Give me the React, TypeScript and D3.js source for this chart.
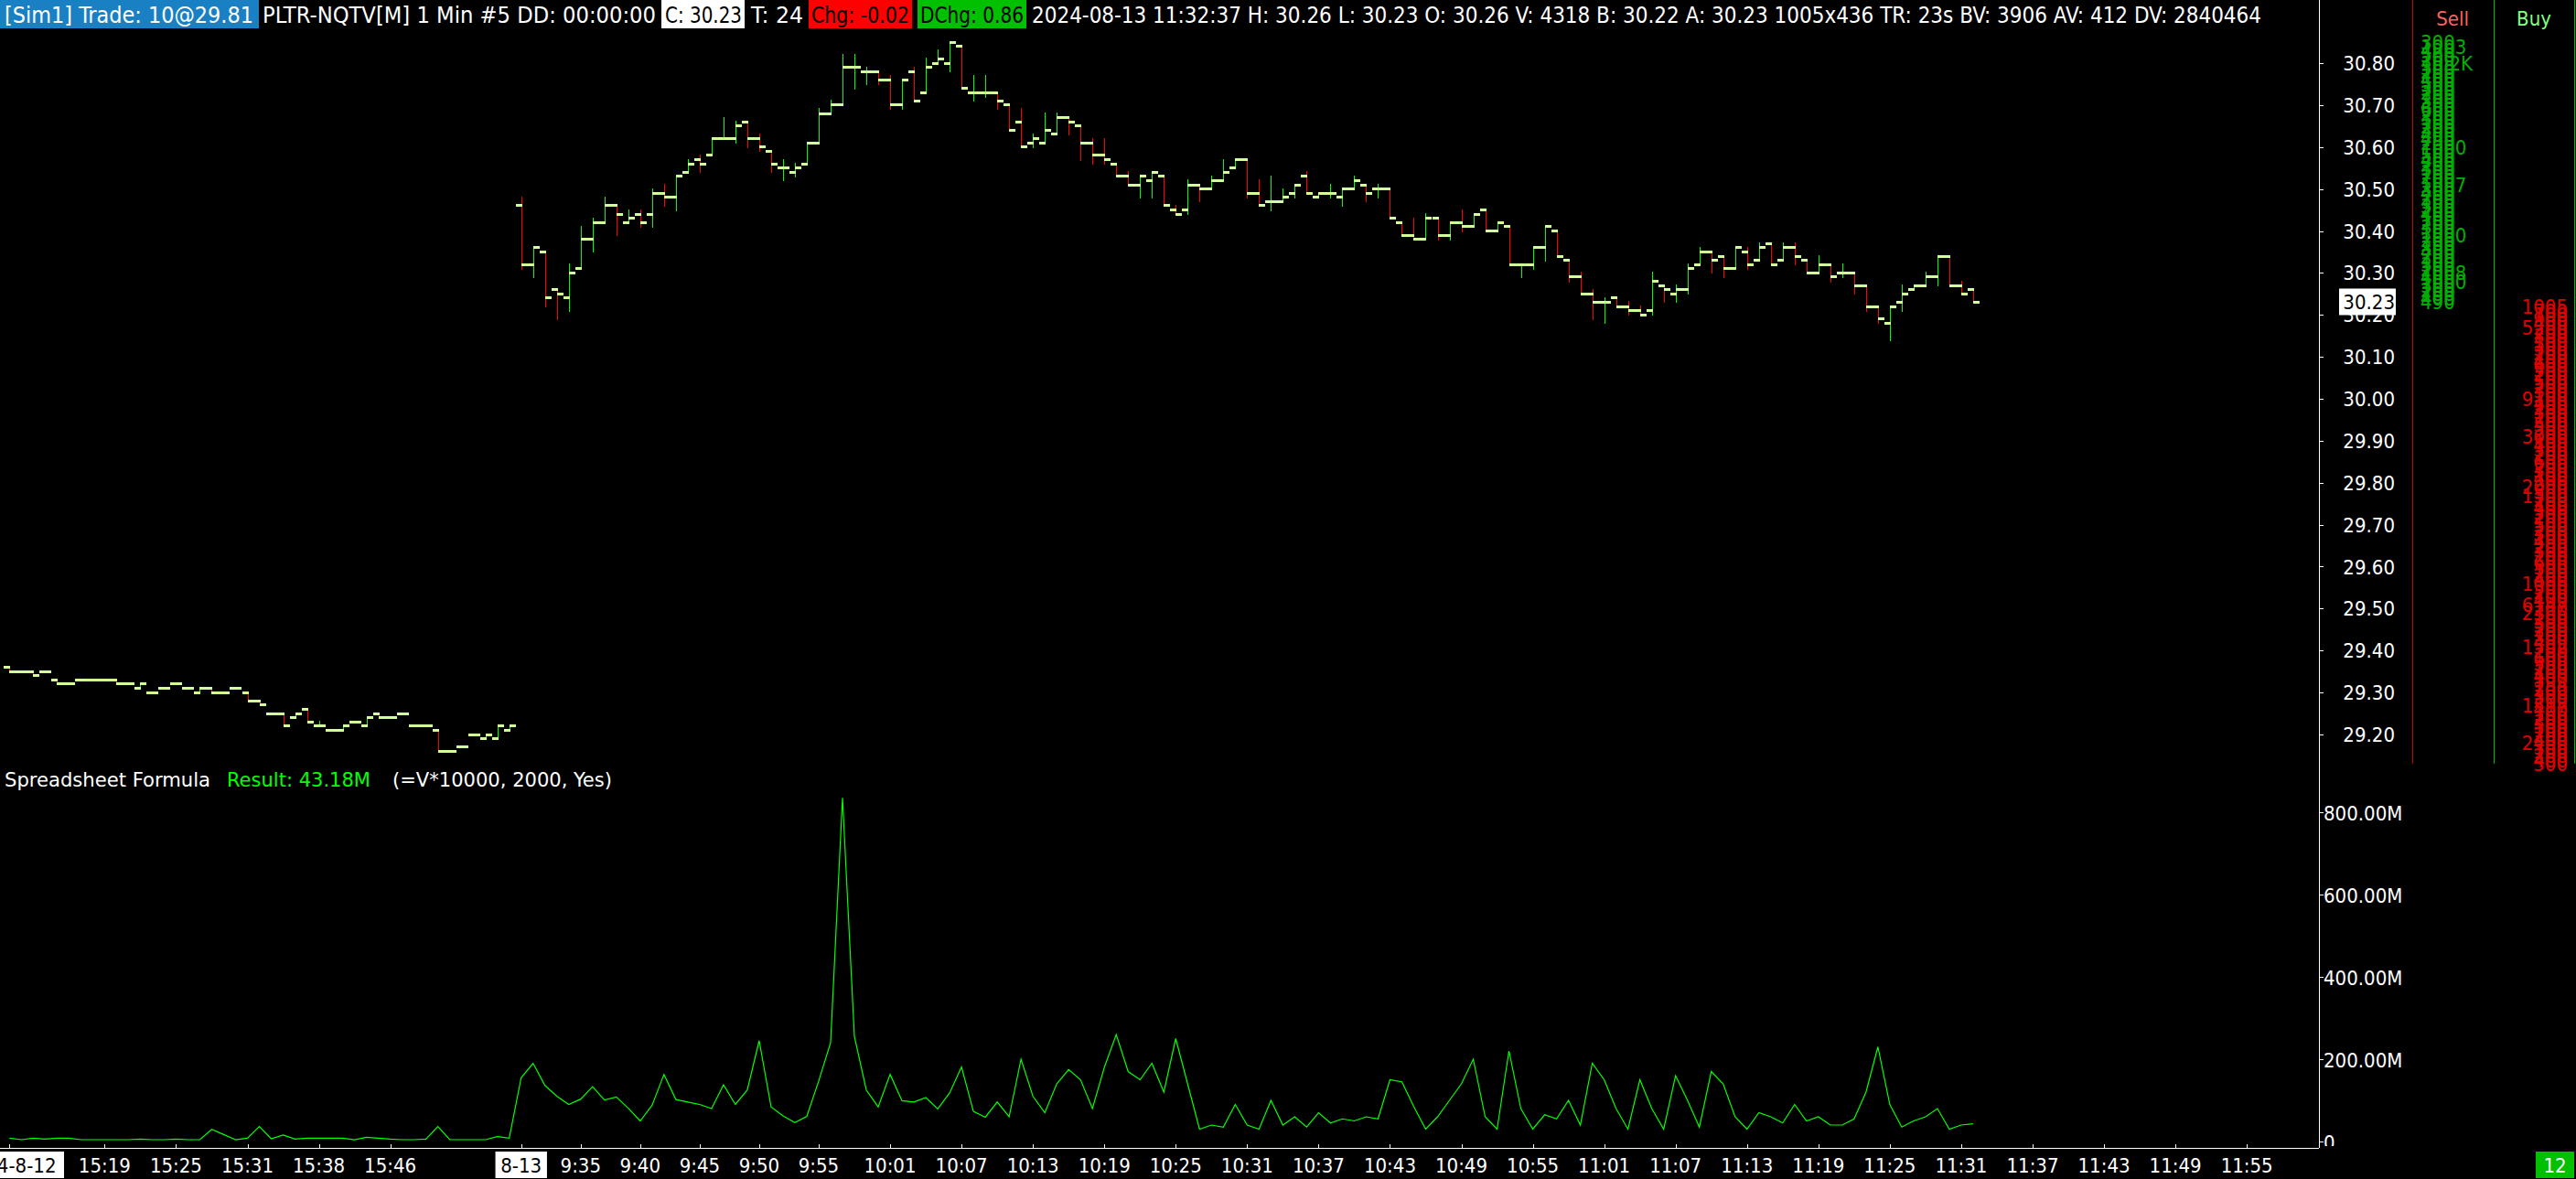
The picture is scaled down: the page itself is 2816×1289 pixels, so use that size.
import { useEffect } from 'react'
import * as d3 from 'd3'

const FONT = "'DejaVu Sans Condensed', 'Liberation Sans Narrow', 'DejaVu Sans', sans-serif"

// PLTR-NQTV 1 min bars, 2024-08-12 (tail of the session)
const aug12Open = [29.36, 29.35, 29.35, 29.35, 29.33, 29.32, 29.33, 29.33, 29.33, 29.33, 29.32, 29.31, 29.30, 29.31, 29.32, 29.31, 29.30, 29.31, 29.30, 29.31, 29.30, 29.28, 29.25, 29.25, 29.24, 29.26, 29.22, 29.21, 29.21, 29.23, 29.22, 29.25, 29.24, 29.25, 29.22, 29.22, 29.21, 29.16, 29.17, 29.20, 29.19, 29.19, 29.21]
const aug12High = [29.36, 29.35, 29.35, 29.35, 29.33, 29.32, 29.33, 29.33, 29.33, 29.33, 29.32, 29.32, 29.30, 29.31, 29.32, 29.31, 29.31, 29.31, 29.30, 29.31, 29.30, 29.28, 29.25, 29.25, 29.25, 29.26, 29.23, 29.21, 29.22, 29.23, 29.24, 29.25, 29.24, 29.25, 29.22, 29.22, 29.21, 29.16, 29.17, 29.20, 29.20, 29.22, 29.22]
const aug12Low = [29.35, 29.35, 29.34, 29.35, 29.32, 29.32, 29.33, 29.33, 29.33, 29.32, 29.32, 29.31, 29.30, 29.31, 29.32, 29.31, 29.30, 29.30, 29.30, 29.31, 29.28, 29.27, 29.25, 29.22, 29.24, 29.23, 29.22, 29.21, 29.21, 29.23, 29.22, 29.24, 29.24, 29.25, 29.22, 29.22, 29.16, 29.16, 29.17, 29.20, 29.19, 29.19, 29.21]
const aug12Close = [29.35, 29.35, 29.34, 29.35, 29.32, 29.32, 29.33, 29.33, 29.33, 29.32, 29.32, 29.32, 29.30, 29.31, 29.32, 29.31, 29.31, 29.30, 29.30, 29.31, 29.28, 29.27, 29.25, 29.22, 29.25, 29.23, 29.22, 29.21, 29.22, 29.23, 29.24, 29.24, 29.24, 29.25, 29.22, 29.22, 29.16, 29.16, 29.17, 29.20, 29.20, 29.22, 29.22]

// 2024-08-13, 9:30 .. 11:32
const aug13Open = [
  30.46, 30.32, 30.35, 30.26, 30.24, 30.31, 30.38, 30.42, 30.46, 30.42,
  30.44, 30.44, 30.49, 30.48, 30.54, 30.57, 30.58, 30.62, 30.62, 30.66,
  30.62, 30.59, 30.55, 30.54, 30.56, 30.61, 30.68, 30.70, 30.79, 30.78,
  30.78, 30.76, 30.70, 30.78, 30.73, 30.80, 30.80, 30.84, 30.73, 30.73,
  30.73, 30.70, 30.66, 30.61, 30.61, 30.63, 30.67, 30.65, 30.61, 30.58,
  30.56, 30.53, 30.51, 30.52, 30.53, 30.45, 30.45, 30.51, 30.50, 30.52,
  30.55, 30.57, 30.49, 30.47, 30.47, 30.49, 30.53, 30.48, 30.49, 30.48,
  30.50, 30.51, 30.50, 30.50, 30.42, 30.39, 30.38, 30.43, 30.39, 30.42,
  30.41, 30.45, 30.40, 30.41, 30.32, 30.32, 30.36, 30.40, 30.33, 30.29,
  30.25, 30.23, 30.24, 30.22, 30.21, 30.21, 30.27, 30.25, 30.26, 30.32,
  30.35, 30.34, 30.31, 30.35, 30.33, 30.37, 30.33, 30.36, 30.33, 30.30,
  30.32, 30.30, 30.30, 30.27, 30.22, 30.18, 30.23, 30.26, 30.27, 30.29,
  30.34, 30.27, 30.26,
]
const aug13High = [
  30.48, 30.36, 30.35, 30.26, 30.32, 30.41, 30.43, 30.48, 30.46, 30.45,
  30.45, 30.50, 30.51, 30.53, 30.57, 30.58, 30.62, 30.67, 30.66, 30.66,
  30.63, 30.59, 30.57, 30.56, 30.61, 30.69, 30.71, 30.82, 30.82, 30.79,
  30.78, 30.77, 30.76, 30.79, 30.81, 30.83, 30.85, 30.84, 30.77, 30.77,
  30.73, 30.70, 30.69, 30.63, 30.68, 30.68, 30.67, 30.65, 30.62, 30.62,
  30.56, 30.54, 30.53, 30.54, 30.53, 30.46, 30.52, 30.51, 30.53, 30.57,
  30.57, 30.57, 30.52, 30.53, 30.50, 30.51, 30.54, 30.49, 30.51, 30.50,
  30.53, 30.51, 30.51, 30.50, 30.42, 30.43, 30.44, 30.43, 30.42, 30.45,
  30.44, 30.45, 30.42, 30.41, 30.32, 30.36, 30.41, 30.40, 30.33, 30.30,
  30.26, 30.24, 30.24, 30.23, 30.22, 30.30, 30.27, 30.27, 30.32, 30.36,
  30.35, 30.34, 30.36, 30.36, 30.37, 30.37, 30.37, 30.37, 30.33, 30.34,
  30.32, 30.32, 30.30, 30.27, 30.22, 30.22, 30.27, 30.27, 30.30, 30.34,
  30.34, 30.28, 30.26,
]
const aug13Low = [
  30.31, 30.29, 30.22, 30.19, 30.21, 30.31, 30.35, 30.42, 30.39, 30.42,
  30.41, 30.41, 30.46, 30.45, 30.54, 30.54, 30.58, 30.62, 30.61, 30.60,
  30.59, 30.54, 30.52, 30.53, 30.56, 30.61, 30.68, 30.70, 30.74, 30.75,
  30.75, 30.69, 30.69, 30.71, 30.73, 30.80, 30.78, 30.74, 30.71, 30.72,
  30.69, 30.64, 30.60, 30.60, 30.61, 30.63, 30.63, 30.57, 30.56, 30.56,
  30.53, 30.51, 30.48, 30.48, 30.46, 30.44, 30.44, 30.47, 30.50, 30.52,
  30.55, 30.48, 30.46, 30.45, 30.47, 30.48, 30.49, 30.48, 30.48, 30.46,
  30.50, 30.47, 30.48, 30.43, 30.39, 30.38, 30.38, 30.38, 30.38, 30.40,
  30.41, 30.40, 30.40, 30.32, 30.29, 30.31, 30.33, 30.34, 30.28, 30.25,
  30.19, 30.18, 30.22, 30.20, 30.20, 30.20, 30.23, 30.23, 30.25, 30.32,
  30.30, 30.29, 30.31, 30.31, 30.33, 30.32, 30.33, 30.32, 30.30, 30.30,
  30.28, 30.29, 30.25, 30.21, 30.18, 30.14, 30.21, 30.26, 30.27, 30.27,
  30.27, 30.25, 30.23,
]
const aug13Close = [
  30.32, 30.36, 30.24, 30.25, 30.30, 30.38, 30.42, 30.46, 30.44, 30.43,
  30.42, 30.49, 30.48, 30.53, 30.56, 30.56, 30.62, 30.62, 30.65, 30.62,
  30.60, 30.56, 30.55, 30.55, 30.61, 30.68, 30.70, 30.79, 30.79, 30.78,
  30.76, 30.70, 30.76, 30.71, 30.79, 30.81, 30.85, 30.74, 30.73, 30.73,
  30.71, 30.64, 30.60, 30.62, 30.64, 30.67, 30.66, 30.61, 30.58, 30.57,
  30.53, 30.51, 30.53, 30.54, 30.46, 30.44, 30.51, 30.50, 30.52, 30.54,
  30.57, 30.49, 30.46, 30.47, 30.48, 30.51, 30.49, 30.49, 30.49, 30.50,
  30.52, 30.49, 30.50, 30.43, 30.39, 30.38, 30.43, 30.39, 30.42, 30.41,
  30.44, 30.40, 30.42, 30.32, 30.32, 30.36, 30.41, 30.34, 30.29, 30.25,
  30.23, 30.23, 30.22, 30.21, 30.20, 30.28, 30.26, 30.26, 30.31, 30.35,
  30.33, 30.31, 30.36, 30.32, 30.36, 30.32, 30.36, 30.34, 30.30, 30.32,
  30.29, 30.30, 30.27, 30.22, 30.19, 30.22, 30.25, 30.27, 30.29, 30.34,
  30.27, 30.25, 30.23,
]

// spreadsheet formula =V*10000, in millions
const aug12Volume = [8.1, 4.4, 8.1, 5.9, 8.1, 8.1, 4.4, 4.4, 4.4, 4.4, 4.4, 5.9, 4.4, 4.4, 5.9, 4.4, 4.4, 29.6, 17.0, 4.4, 8.1, 36.3, 6.7, 15.6, 5.9, 8.1, 8.1, 8.1, 8.1, 4.4, 10.4, 8.1, 5.9, 4.4, 4.4, 5.9, 36.3, 4.4, 4.4, 4.4, 4.4, 11.9, 8.1]
const aug13Volume = [
  155, 190, 136, 110, 90, 103, 133, 101, 108, 81,
  50, 88, 163, 102, 96, 90, 80, 138, 90, 125,
  245, 84, 62, 46, 61, 147, 240, 835, 255, 125,
  84, 163, 99, 96, 107, 79, 118, 181, 73, 59,
  96, 60, 200, 110, 70, 140, 175, 150, 80, 180,
  260, 170, 150, 190, 120, 250, 140, 30, 40, 35,
  90, 40, 30, 100, 40, 60, 35, 70, 45, 55,
  50, 60, 55, 150, 145, 85, 30, 60, 100, 140,
  200, 60, 30, 220, 80, 30, 65, 55, 100, 40,
  190, 150, 80, 30, 150, 80, 30, 160, 100, 35,
  170, 140, 60, 30, 70, 60, 45, 90, 50, 60,
  40, 40, 55, 120, 230, 90, 35, 50, 60, 80,
  30, 40, 43.18,
]

// axis labels
const priceLabels = ['30.80', '30.70', '30.60', '30.50', '30.40', '30.30', '30.20', '30.10', '30.00', '29.90', '29.80', '29.70', '29.60', '29.50', '29.40', '29.30', '29.20']
const volumeTickValues = [800, 600, 400, 200, 0]
const volumeTickLabels = ['800.00M', '600.00M', '400.00M', '200.00M', '0']
const timeLabelBars = [0, 8, 14, 20, 26, 32, 43, 48, 53, 58, 63, 68, 74, 80, 86, 92, 98, 104, 110, 116, 122, 128, 134, 140, 146, 152, 158, 164, 170, 176, 182, 188]
const timeLabelText = ['2024-8-12', '15:19', '15:25', '15:31', '15:38', '15:46', '8-13', '9:35', '9:40', '9:45', '9:50', '9:55', '10:01', '10:07', '10:13', '10:19', '10:25', '10:31', '10:37', '10:43', '10:49', '10:55', '11:01', '11:07', '11:13', '11:19', '11:25', '11:31', '11:37', '11:43', '11:49', '11:55']

// depth columns: sell sizes from 30.85 down, buy sizes from 30.22 down
const sellSizes = ['300', '1003', '420', '500', '200', '10.2K', '300', '200', '100', '400', '500', '300', '200', '100', '300', '400', '600', '200', '300', '100', '200', '300', '400', '490', '200', '1000', '100', '500', '400', '200', '300', '100', '200', '100', '1007', '300', '400', '200', '100', '300', '200', '400', '100', '200', '300', '100', '1000', '200', '100', '300', '400', '200', '100', '300', '200', '1008', '400', '1000', '300', '200', '100', '400', '490']
const buySizes = ['1005', '700', '100', '900', '400', '5200', '200', '300', '100', '500', '300', '200', '100', '400', '600', '300', '200', '100', '500', '200', '300', '100', '9100', '400', '200', '300', '100', '200', '500', '300', '200', '3000', '100', '400', '300', '200', '100', '600', '200', '300', '100', '400', '200', '2000', '300', '1300', '200', '100', '400', '300', '200', '100', '500', '200', '300', '100', '400', '200', '300', '100', '200', '600', '300', '100', '200', '400', '1000', '300', '200', '100', '400', '6147', '200', '2300', '100', '300', '500', '200', '100', '300', '400', '1502', '200', '100', '600', '300', '200', '100', '400', '300', '134', '200', '100', '300', '200', '1517', '400', '100', '200', '300', '500', '100', '200', '400', '2400', '300', '100', '200', '400', '300']

const UP = '#00ff00'
const DOWN = '#ff0000'
const TICK = '#d2ff98'

export default function App() {
  useEffect(() => {
    document.body.style.margin = '0'
    document.body.style.background = '#000'
  }, [])

  const x = d3.scaleLinear().domain([0, 194]).range([10.3, 10.3 + 13.01 * 194])
  const yP = d3.scaleLinear().domain([29.2, 30.8]).range([803, 69])
  const yV = d3.scaleLinear().domain([0, 800]).range([1248, 888])

  const bars = [
    ...aug12Open.map((o, i) => ({ o, h: aug12High[i], l: aug12Low[i], c: aug12Close[i] })),
    ...aug13Open.map((o, i) => ({ o, h: aug13High[i], l: aug13Low[i], c: aug13Close[i] })),
  ]
  const volumes = [...aug12Volume, ...aug13Volume]
  const volLine = d3.line<number>().x((_, i) => x(i)).y((d) => yV(d))
  const last = aug13Close[aug13Close.length - 1]

  const header = [
    { t: '[Sim1]  Trade: 10@29.81', x0: 0, x1: 283, tx: 5, tw: 272, bg: '#1a80c4', fg: '#fff' },
    { t: 'PLTR-NQTV[M]  1 Min  #5 DD: 00:00:00', x0: 0, x1: 0, tx: 287, tw: 430, bg: '', fg: '#fff' },
    { t: 'C: 30.23', x0: 723, x1: 814, tx: 727, tw: 84, bg: '#fff', fg: '#000' },
    { t: 'T: 24', x0: 0, x1: 0, tx: 821, tw: 57, bg: '', fg: '#fff' },
    { t: 'Chg: -0.02', x0: 884, x1: 997, tx: 887, tw: 107, bg: '#ff0000', fg: '#000' },
    { t: 'DChg: 0.86', x0: 1003, x1: 1122, tx: 1006, tw: 113, bg: '#00c000', fg: '#000' },
    { t: '2024-08-13 11:32:37 H: 30.26 L: 30.23 O: 30.26 V: 4318 B: 30.22 A: 30.23 1005x436 TR: 23s BV: 3906 AV: 412 DV: 2840464', x0: 0, x1: 0, tx: 1128, tw: 1344, bg: '', fg: '#fff' },
  ]

  return (
    <svg width={2816} height={1289} style={{ display: 'block', background: '#000' }} fontFamily={FONT}>
      <defs>
        <clipPath id="vol-axis">
          <rect x={2536} y={860} width={200} height={393} />
        </clipPath>
      </defs>
      <rect x={0} y={0} width={2816} height={1289} fill="#000" />

      {/* header line */}
      {header.map((s) => (
        <g key={s.t}>
          {s.bg && <rect x={s.x0} y={0} width={s.x1 - s.x0} height={31} fill={s.bg} />}
          <text x={s.tx} y={25} fontSize={24} fill={s.fg} textLength={s.tw} lengthAdjust="spacingAndGlyphs">
            {s.t}
          </text>
        </g>
      ))}

      {/* price bars */}
      <g shapeRendering="crispEdges">
        {bars.map((b, i) => (
          <line
            key={'hl' + i}
            x1={Math.round(x(i)) + 0.5}
            x2={Math.round(x(i)) + 0.5}
            y1={yP(b.h) - 1}
            y2={yP(b.l) + 1}
            stroke={b.c >= b.o ? UP : DOWN}
            strokeWidth={1}
          />
        ))}
        {bars.map((b, i) => (
          <g key={'oc' + i} fill={TICK}>
            <rect x={Math.round(x(i)) - 6} y={yP(b.o) - 1.5} width={6.5} height={3} />
            <rect x={Math.round(x(i))} y={yP(b.c) - 1.5} width={6.5} height={3} />
          </g>
        ))}
      </g>

      {/* volume study */}
      <text x={5} y={860} fontSize={22} fill="#fff" textLength={225} lengthAdjust="spacingAndGlyphs">Spreadsheet Formula</text>
      <text x={248} y={860} fontSize={22} fill="#00ff00" textLength={157} lengthAdjust="spacingAndGlyphs">Result: 43.18M</text>
      <text x={429} y={860} fontSize={22} fill="#fff" textLength={240} lengthAdjust="spacingAndGlyphs">(=V*10000, 2000, Yes)</text>
      <path d={volLine(volumes) ?? ''} fill="none" stroke="#00ff00" strokeWidth={1.2} />

      {/* right price scale */}
      <line x1={2535.5} x2={2535.5} y1={0} y2={1255} stroke="#fff" strokeWidth={1} />
      {priceLabels.map((p) => (
        <g key={p}>
          <line x1={2535} x2={2540} y1={Math.round(yP(+p)) + 0.5} y2={Math.round(yP(+p)) + 0.5} stroke="#fff" />
          <text x={2618} y={yP(+p) + 8} fontSize={22} fill="#fff" textAnchor="end">{p}</text>
        </g>
      ))}
      <rect x={2557} y={yP(last) - 15} width={62} height={29} fill="#fff" />
      <text x={2618} y={yP(last) + 8} fontSize={22} fill="#000" textAnchor="end">{last.toFixed(2)}</text>

      {volumeTickValues.map((v, i) => (
        <g key={v} clipPath="url(#vol-axis)">
          <line x1={2535} x2={2540} y1={Math.round(yV(v)) + 0.5} y2={Math.round(yV(v)) + 0.5} stroke="#fff" />
          <text x={2540} y={yV(v) + 9} fontSize={22} fill="#fff">{volumeTickLabels[i]}</text>
        </g>
      ))}

      {/* depth columns */}
      <line x1={2637.5} x2={2637.5} y1={0} y2={835} stroke="#d00000" />
      <line x1={2726.5} x2={2726.5} y1={0} y2={835} stroke="#00c000" />
      <line x1={2814.5} x2={2814.5} y1={0} y2={835} stroke="#00c000" />
      <text x={2681} y={28} fontSize={22} fill="#ff6060" textAnchor="middle">Sell</text>
      <text x={2770} y={28} fontSize={22} fill="#80ff80" textAnchor="middle">Buy</text>
      {sellSizes.map((s, i) => (
        <text key={'s' + i} x={2646} y={yP(30.85 - i * 0.01) + 8} fontSize={22} fill="#00b000">{s}</text>
      ))}
      {buySizes.map((s, i) => (
        <text key={'b' + i} x={2807} y={yP(30.22 - i * 0.01) + 8} fontSize={22} fill="#e00000" textAnchor="end">{s}</text>
      ))}

      {/* time scale */}
      <line x1={0} x2={2535} y1={1255.5} y2={1255.5} stroke="#fff" />
      {timeLabelBars.map((b, i) => {
        const isDate = timeLabelText[i].includes('-')
        const w = timeLabelText[i].length * 12.6
        return (
          <g key={timeLabelText[i]}>
            <line x1={Math.round(x(b)) + 0.5} x2={Math.round(x(b)) + 0.5} y1={1251} y2={1255} stroke="#fff" />
            {isDate && <rect x={x(b) - w / 2 - 3} y={1259} width={w + 6} height={29} fill="#fff" />}
            <text x={x(b)} y={1282} fontSize={22} fill={isDate ? '#000' : '#fff'} textAnchor="middle">
              {timeLabelText[i]}
            </text>
          </g>
        )
      })}
      <rect x={2772} y={1259} width={42} height={29} fill="#00c000" />
      <text x={2793} y={1282} fontSize={22} fill="#fff" textAnchor="middle">12</text>
    </svg>
  )
}
